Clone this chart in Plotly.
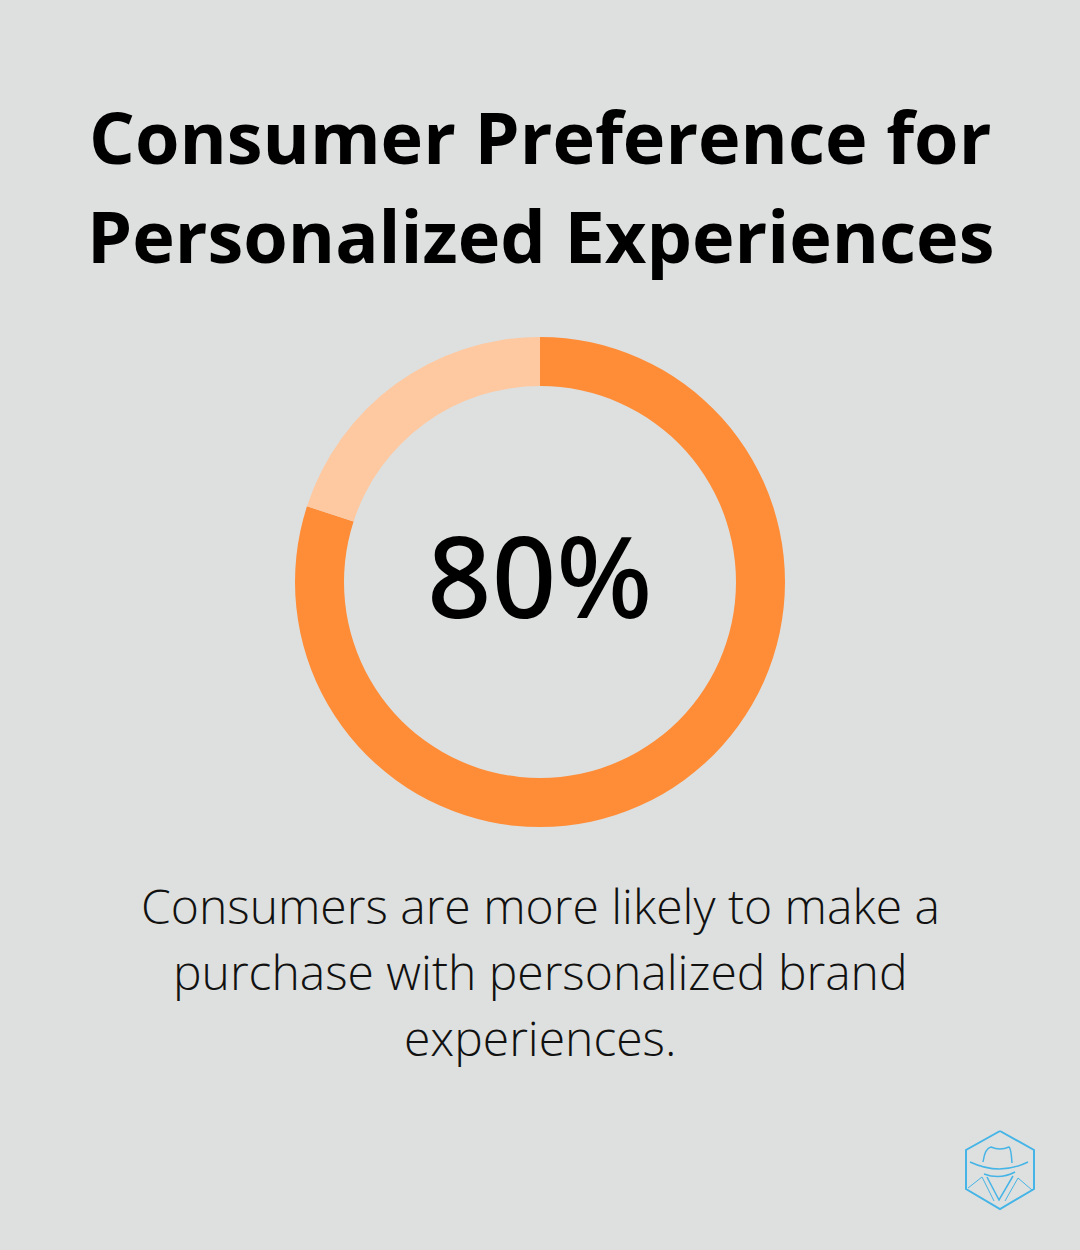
import plotly.graph_objects as go

# Data
labels = ["Prefer personalized", "Other"]
values = [80, 20]
colors = ["#ff8c37", "#fec8a0"]
title_lines = ["Consumer Preference for", "Personalized Experiences"]
center_text = "80%"
caption_lines = ["Consumers are more likely to make a",
                 "purchase with personalized brand",
                 "experiences."]

W, H = 1080, 1250
BG = "#dee0df"
ICON = "#45b4e6"


def px(x):
    return x / W


def py(y):
    return 1 - y / H


# Turns an svg-like list of (command, x, y, ...) in pixels into a paper path
def logo_path(parts):
    out = []
    for part in parts:
        cmd, nums = part[0], part[1:]
        coords = [f"{px(nums[i])},{py(nums[i + 1])}" for i in range(0, len(nums), 2)]
        out.append(cmd + " " + " ".join(coords))
    return " ".join(out)


fig = go.Figure()

# Ring: outer diameter 490px centred at (540, 582)
fig.add_trace(go.Pie(
    labels=labels, values=values, hole=0.8,
    sort=False, direction="clockwise", rotation=0,
    marker=dict(colors=colors, line=dict(width=0)),
    textinfo="none", showlegend=False,
    domain=dict(x=[px(295), px(785)], y=[py(827), py(337)]),
))

# Title
for line, y in zip(title_lines, [136.5, 234.5]):
    fig.add_annotation(x=px(540), y=py(y), xref="paper", yref="paper", text=line,
                       showarrow=False, xanchor="center", yanchor="middle",
                       font=dict(family="Open Sans", size=72, color="#000000", weight=700))

fig.add_annotation(x=px(540), y=py(573.5), xref="paper", yref="paper", text=center_text,
                   showarrow=False, xanchor="center", yanchor="middle",
                   font=dict(family="Noto Sans", size=113, color="#000000", weight=500))

# Caption
for line, y in zip(caption_lines, [905.5, 971.5, 1037.5]):
    fig.add_annotation(x=px(540), y=py(y), xref="paper", yref="paper", text=line,
                       showarrow=False, xanchor="center", yanchor="middle",
                       font=dict(family="Open Sans", size=48, color="#111111", weight=300))

# Logo
logo = [
    # hexagon
    ([("M", 1000, 1131), ("L", 1034, 1150), ("L", 1034, 1189), ("L", 1000, 1209),
      ("L", 966, 1189), ("L", 966, 1150), ("L", 1000, 1131)], 2),
    # hat crown
    ([("M", 983, 1162), ("Q", 985, 1148, 991, 1147), ("Q", 1000, 1151, 1009, 1147),
      ("Q", 1011, 1148, 1012, 1163)], 1.5),
    # brim
    ([("M", 970, 1162), ("Q", 1000, 1176, 1028, 1162)], 1.5),
    ([("M", 984, 1174), ("Q", 1000, 1180, 1015, 1172)], 1.5),
    # collar and lapels
    ([("M", 987, 1177), ("L", 999, 1200), ("L", 1013, 1176)], 1.5),
    ([("M", 968, 1188), ("L", 982, 1177), ("L", 994, 1201)], 1),
    ([("M", 1005, 1201), ("L", 1018, 1178), ("L", 1032, 1190)], 1),
]
for parts, width in logo:
    fig.add_shape(type="path", xref="paper", yref="paper", path=logo_path(parts),
                  line=dict(color=ICON, width=width))

fig.update_layout(
    width=W, height=H, autosize=False,
    margin=dict(l=0, r=0, t=0, b=0),
    paper_bgcolor=BG, plot_bgcolor=BG,
)

fig.write_html("out.html", config=dict(displayModeBar=False),
               post_script="document.body.style.margin='0';document.body.style.overflow='hidden';")
